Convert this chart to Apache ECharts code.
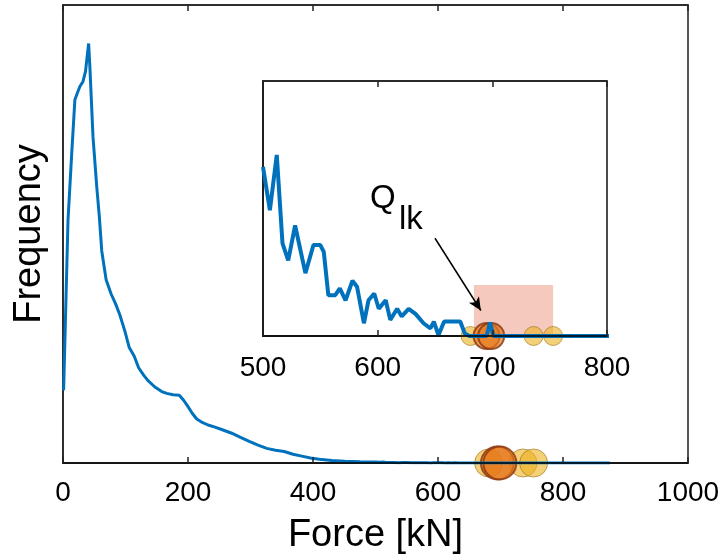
<!DOCTYPE html>
<html>
<head>
    <meta charset="utf-8">
    <script src="https://cdn.jsdelivr.net/npm/echarts@6/dist/echarts.min.js"></script>
    <style>
        html, body { margin: 0; padding: 0; background: #fff; }
        #chart { width: 721px; height: 559px; }
    </style>
</head>
<body>
<div id="chart"></div>
<script>
    // force [kN] -> frequency (counts); head is the main peak, tail is what the inset zooms in on
    var headData = [
        [1, 1590], [8, 5300], [14, 6770], [19, 7930], [23, 8080], [27, 8220], [32, 8330], [36, 8550],
        [41, 9160], [43, 8650], [48, 7120], [54, 6030], [58, 5400], [62, 4630], [69, 4000], [77, 3690],
        [84, 3480], [91, 3230], [99, 2880], [106, 2520], [114, 2330], [121, 2080], [129, 1920],
        [136, 1800], [147, 1660], [158, 1560], [166, 1520], [176, 1490], [186, 1480], [193, 1370],
        [200, 1230], [207, 1080], [214, 960], [221, 900], [232, 830], [242, 790], [256, 720],
        [270, 650], [284, 560], [298, 470], [312, 390], [326, 320], [340, 280], [354, 250],
        [368, 190], [382, 150], [396, 110], [410, 80], [430, 55], [451, 40], [475, 28], [490, 22]
    ];
    var tailData = [
        [500, 19.9], [506, 14.8], [512, 21.3], [517, 10.9], [522, 8.9], [528, 13.0], [537, 7.4],
        [544, 10.7], [550, 10.7], [553, 9.9], [557, 4.8], [563, 4.8], [567, 5.6], [572, 4.2],
        [578, 6.5], [582, 5.8], [588, 1.5], [592, 4.2], [597, 5.0], [601, 3.2], [607, 4.2],
        [611, 1.9], [617, 3.2], [621, 2.3], [627, 3.2], [633, 2.6], [640, 1.5], [646, 0.9],
        [649, 1.7], [653, 0.1], [658, 1.7], [672, 1.7], [676, 0.3], [680, 0], [695, 0],
        [698, 1.6], [701, 0], [875, 0]
    ];
    // estimated loads (yellow) and the characteristic value Q_lk (orange)
    var yellowPts = [681, 736, 753];
    var orangePts = [695, 699];
    // shaded band in the inset: force range and height (inset units)
    var bandRange = [684, 753];
    var bandTop = 6;
    // arrow from label to Q_lk (inset units)
    var arrowFrom = [650, 11.5];
    var arrowTo = [690, 3];

    var mainTicks = { min: 0, max: 1000, interval: 200 };
    var insetTicks = { min: 500, max: 800, interval: 100 };

    var FONT = 'Liberation Sans, Arial, Helvetica, sans-serif';

    var chart = echarts.init(document.getElementById('chart'));

    function pts(list) {
        return list.map(function (x) { return [x, 0]; });
    }

    var yellowStyle = {
        color: 'rgba(237,177,32,0.75)',
        borderColor: 'rgba(140,105,20,0.7)',
        borderWidth: 1
    };
    var orangeStyle = {
        color: 'rgba(230,120,25,0.85)',
        borderColor: '#8a3410',
        borderWidth: 2
    };

    function bottomAxis(grid, t, z, margin) {
        return {
            type: 'value', gridIndex: grid, position: 'bottom',
            min: t.min, max: t.max, interval: t.interval, z: z,
            axisLine: { show: true, lineStyle: { color: '#000', width: 1.5 } },
            axisTick: { show: true, inside: true, length: 6, lineStyle: { color: '#222', width: 1.5 } },
            axisLabel: {
                color: '#000', fontSize: 28, fontFamily: FONT, margin: margin,
                formatter: function (v) { return String(v); }
            },
            splitLine: { show: false }
        };
    }
    function topAxis(grid, t) {
        return {
            type: 'value', gridIndex: grid, position: 'top',
            min: t.min, max: t.max, interval: t.interval,
            axisLine: { show: true, lineStyle: { color: '#222', width: 1.5 } },
            axisTick: { show: true, inside: true, length: 6, lineStyle: { color: '#222', width: 1.5 } },
            axisLabel: { show: false },
            splitLine: { show: false }
        };
    }

    var mainX = bottomAxis(0, mainTicks, 10, 16);
    mainX.name = 'Force [kN]';
    mainX.nameLocation = 'middle';
    mainX.nameGap = 54;
    mainX.nameTextStyle = { color: '#000', fontSize: 38, fontFamily: FONT };

    chart.setOption({
        backgroundColor: '#fff',
        animation: false,
        grid: [
            { left: 63, right: 33, top: 5, bottom: 96, outerBoundsMode: 'none', containLabel: false,
              show: true, borderColor: '#222', borderWidth: 1.5 },
            { left: 263, right: 114, top: 81, bottom: 223, outerBoundsMode: 'none', containLabel: false,
              show: true, borderColor: '#111', borderWidth: 1.5 }
        ],
        xAxis: [
            mainX,
            topAxis(0, mainTicks),
            bottomAxis(1, insetTicks, 10, 18),
            topAxis(1, insetTicks)
        ],
        yAxis: [
            {
                type: 'value', gridIndex: 0, min: 0, max: 10000,
                name: 'Frequency', nameLocation: 'middle', nameGap: 14,
                nameTextStyle: { color: '#000', fontSize: 38, fontFamily: FONT },
                axisLine: { show: true, lineStyle: { color: '#222', width: 1.5 } },
                axisTick: { show: false }, axisLabel: { show: false }, splitLine: { show: false }
            },
            {
                type: 'value', gridIndex: 1, min: 0, max: 30,
                axisLine: { show: true, lineStyle: { color: '#111', width: 1.5 } },
                axisTick: { show: false }, axisLabel: { show: false }, splitLine: { show: false }
            }
        ],
        series: [
            {
                type: 'line', xAxisIndex: 0, yAxisIndex: 0,
                data: headData.concat(tailData),
                showSymbol: false, silent: true,
                lineStyle: { color: '#0072BD', width: 3 }
            },
            {
                type: 'scatter', xAxisIndex: 0, yAxisIndex: 0,
                data: pts(yellowPts), symbolSize: 28, itemStyle: yellowStyle
            },
            {
                type: 'scatter', xAxisIndex: 0, yAxisIndex: 0,
                data: pts(orangePts), symbolSize: 33, itemStyle: orangeStyle
            },
            {
                type: 'line', xAxisIndex: 2, yAxisIndex: 1,
                data: tailData,
                showSymbol: false, silent: true,
                lineStyle: { color: '#0072BD', width: 4 },
                markArea: {
                    silent: true,
                    itemStyle: { color: 'rgba(230,120,90,0.4)' },
                    data: [[{ coord: [bandRange[0], 0] }, { coord: [bandRange[1], bandTop] }]]
                },
                markLine: {
                    silent: true,
                    symbol: ['none', 'arrow'],
                    symbolSize: [9, 13],
                    lineStyle: { color: '#000', width: 1.5, type: 'solid' },
                    label: { show: false },
                    data: [[{ coord: arrowFrom }, { coord: arrowTo }]]
                }
            },
            {
                type: 'scatter', xAxisIndex: 2, yAxisIndex: 1,
                data: pts(yellowPts), symbolSize: 19, itemStyle: yellowStyle
            },
            {
                type: 'scatter', xAxisIndex: 2, yAxisIndex: 1,
                data: pts(orangePts), symbolSize: 26, itemStyle: orangeStyle
            }
        ],
        graphic: [
            {
                type: 'text', left: 370, top: 182, z: 20,
                style: { text: 'Q', fontSize: 33, fontFamily: FONT, fill: '#000' }
            },
            {
                type: 'text', left: 399, top: 203, z: 20,
                style: { text: 'lk', fontSize: 33, fontFamily: FONT, fill: '#000' }
            }
        ]
    });
</script>
</body>
</html>
